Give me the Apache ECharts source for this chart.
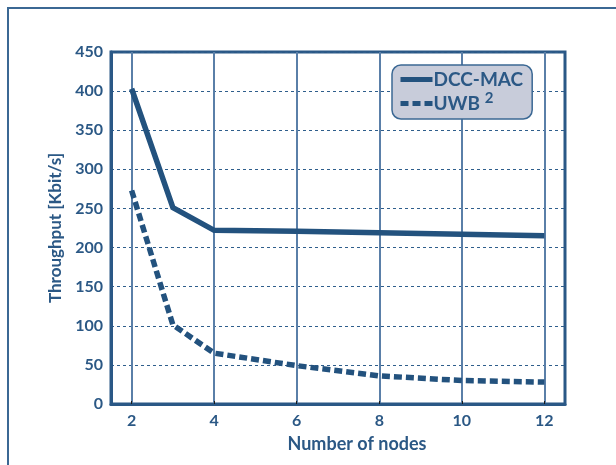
<!DOCTYPE html>
<html>
<head>
<meta charset="utf-8">
<script src="https://cdn.jsdelivr.net/npm/echarts@6/dist/echarts.min.js"></script>
<style>html,body{margin:0;padding:0;background:#fff;}#c{width:616px;height:465px;}</style>
</head>
<body>
<div id="c"></div>
<script>
const nodes = [2, 3, 4, 6, 8, 10, 12];
const dccMac = [403, 251, 222, 221, 219, 217, 215];
const uwb2 = [273, 101, 65, 49, 36, 30, 28];
const xTicks = [2, 4, 6, 8, 10, 12];
const seriesNames = ['DCC-MAC', 'UWB2'];

const FONT = 'Lato';
const TXT = '#2b5885';
const LINE = '#23527e';

const chart = echarts.init(document.getElementById('c'), null, {renderer: 'canvas'});
chart.setOption({
  animation: false,
  backgroundColor: '#fff',
  graphic: [{
    type: 'rect',
    shape: {x: 8, y: 8, width: 640, height: 500},
    style: {fill: 'none', stroke: '#3b6894', lineWidth: 2}
  }],
  grid: {
    left: 111, top: 52, right: 51, bottom: 61,
    show: true, borderColor: '#2a5886', borderWidth: 3, backgroundColor: 'transparent'
  },
  legend: {
    data: seriesNames,
    orient: 'vertical',
    left: 392, top: 65,
    backgroundColor: '#c8ccda',
    borderColor: '#3b6894',
    borderWidth: 1.5,
    borderRadius: 9,
    padding: [5, 9, 6, 6],
    itemGap: 2,
    itemWidth: 32,
    itemHeight: 20,
    itemStyle: {opacity: 0},
    lineStyle: {width: 5, color: LINE, cap: 'butt'},
    formatter: function (n) { return n === 'UWB2' ? 'UWB {s|2}' : n; },
    textStyle: {
      fontFamily: FONT, fontWeight: 'bold', fontSize: 19, color: TXT, padding: [0, 0, 0, -4],
      rich: { s: { fontFamily: FONT, fontWeight: 'bold', fontSize: 15, color: TXT, verticalAlign: 'top', padding: [0, 0, 10, 0] } }
    }
  },
  xAxis: {
    type: 'value',
    min: 1.5, max: 12.5,
    name: 'Number of nodes',
    nameLocation: 'middle',
    nameGap: 31,
    nameTextStyle: {fontFamily: FONT, fontWeight: 'bold', fontSize: 18, color: TXT, padding: [0, 0, 0, 38]},
    axisLine: {show: true, lineStyle: {color: '#2a5886', width: 3}},
    axisTick: {show: true, inside: true, length: 3, customValues: xTicks, lineStyle: {color: '#1a1a1a', width: 1}},
    axisLabel: {customValues: xTicks, fontFamily: FONT, fontWeight: 'bold', fontSize: 16, color: TXT, margin: 9},
    splitLine: {show: true, lineStyle: {color: '#5a7fa8', width: 2, type: 'solid'}}
  },
  yAxis: {
    type: 'value',
    min: 0, max: 450, interval: 50,
    name: 'Throughput [Kbit/s]',
    nameLocation: 'middle',
    nameGap: 45,
    nameTextStyle: {fontFamily: FONT, fontWeight: 'bold', fontSize: 17, color: TXT},
    axisLine: {show: true, lineStyle: {color: '#2a5886', width: 3}},
    axisTick: {show: false},
    axisLabel: {fontFamily: FONT, fontWeight: 'bold', fontSize: 16, color: TXT, margin: 8},
    splitLine: {show: true, lineStyle: {color: '#2f5e8c', width: 1, type: [3, 3]}}
  },
  series: [{
    name: 'DCC-MAC',
    type: 'line',
    data: nodes.map((x, i) => [x, dccMac[i]]),
    symbol: 'none',
    lineStyle: {color: LINE, width: 5.5, cap: 'butt', join: 'miter'},
    itemStyle: {color: LINE}
  }, {
    name: 'UWB2',
    type: 'line',
    data: nodes.map((x, i) => [x, uwb2[i]]),
    symbol: 'none',
    lineStyle: {color: LINE, width: 5.5, type: [8, 4], cap: 'butt', join: 'miter'},
    itemStyle: {color: LINE}
  }]
});
</script>
</body>
</html>
